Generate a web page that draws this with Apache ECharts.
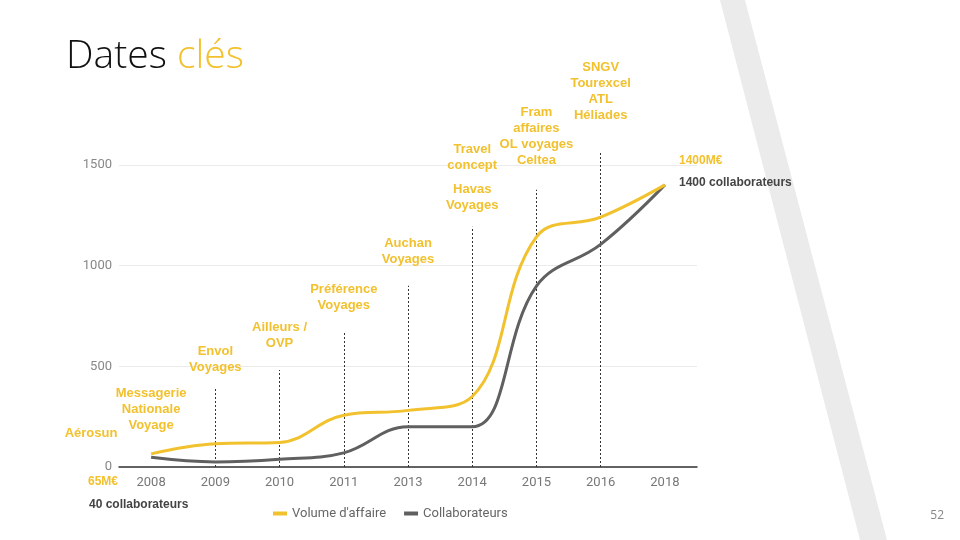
<!DOCTYPE html>
<html>
<head>
<meta charset="utf-8">
<title>Dates clés</title>
<script src="https://cdn.jsdelivr.net/npm/echarts@6/dist/echarts.min.js"></script>
<style>
  html, body { margin: 0; padding: 0; background: #fff; }
  #chart { width: 960px; height: 540px; }
</style>
</head>
<body>
<div id="chart"></div>
<script>
// chart data
var years = ["2008", "2009", "2010", "2011", "2013", "2014", "2015", "2016", "2018"];
var volume = [65, 115, 122, 257, 281, 350, 1142, 1240, 1400];
var collaborateurs = [48, 25, 38, 70, 200, 200, 898, 1105, 1400];
var yTicks = [0, 500, 1000, 1500];

// dotted event lines: year and height reached
var eventYears = ["2009", "2010", "2011", "2013", "2014", "2015", "2016"];
var eventTops = [397, 482, 673, 899, 1192, 1376, 1565];

// acquisitions written above each year
var eventLabels = [
  { year: null, text: "Aérosun" },
  { year: "2008", text: "Messagerie\nNationale\nVoyage" },
  { year: "2009", text: "Envol\nVoyages" },
  { year: "2010", text: "Ailleurs /\nOVP" },
  { year: "2011", text: "Préférence\nVoyages" },
  { year: "2013", text: "Auchan\nVoyages" },
  { year: "2014", text: "Havas\nVoyages" },
  { year: "2014", text: "Travel\nconcept" },
  { year: "2015", text: "Fram\naffaires\nOL voyages\nCeltea" },
  { year: "2016", text: "SNGV\nTourexcel\nATL\nHéliades" }
];
// vertical centre of each label block (px)
var labelY = [433, 409, 359, 335, 297, 251, 197, 157, 136, 91];

var YELLOW = "#F2C12E";
var GREY = "#606060";

var chart = echarts.init(document.getElementById("chart"));

var markData = [];
for (var i = 0; i < eventYears.length; i++) {
  markData.push([{ coord: [eventYears[i], 0] }, { coord: [eventYears[i], eventTops[i]] }]);
}

chart.setOption({
  animation: false,
  textStyle: { fontFamily: "Roboto" },
  grid: { left: 119, right: 263, top: 64, bottom: 73 },
  legend: {
    left: 268,
    top: 502,
    icon: "rect",
    itemWidth: 14,
    itemHeight: 4,
    itemGap: 18,
    textStyle: { color: "#666", fontSize: 13 },
    data: ["Volume d'affaire", "Collaborateurs"]
  },
  xAxis: {
    type: "category",
    data: years,
    boundaryGap: true,
    axisTick: { show: false },
    axisLine: { lineStyle: { color: "#333", width: 1.5 } },
    axisLabel: { color: "#777", fontSize: 13, margin: 9 }
  },
  yAxis: {
    type: "value",
    min: 0,
    max: 2000,
    interval: 500,
    axisLine: { show: false },
    axisTick: { show: false },
    axisLabel: {
      color: "#888",
      fontSize: 13,
      margin: 7,
      showMaxLabel: false,
      formatter: function (v) { return yTicks.indexOf(v) >= 0 ? String(v) : ""; }
    },
    splitLine: { showMaxLine: false, lineStyle: { color: "#ebebeb" } }
  },
  series: [
    {
      name: "Volume d'affaire",
      type: "line",
      data: volume,
      smooth: 0.4,
      symbol: "none",
      z: 4,
      lineStyle: { color: YELLOW, width: 3 },
      itemStyle: { color: YELLOW },
      markLine: {
        silent: true,
        symbol: "none",
        z: 1,
        label: { show: false },
        lineStyle: { color: "#333", width: 1, type: [2, 2] },
        data: markData
      }
    },
    {
      name: "Collaborateurs",
      type: "line",
      data: collaborateurs,
      smooth: 0.4,
      symbol: "none",
      z: 3,
      lineStyle: { color: GREY, width: 3 },
      itemStyle: { color: GREY }
    }
  ]
});

// texts around the chart
var graphics = [
  {
    type: "polygon",
    z: -10,
    silent: true,
    shape: { points: [[720, 0], [745, 0], [887, 540], [860, 540]] },
    style: { fill: "#ebebeb" }
  },
  {
    type: "text",
    x: 66,
    y: 57,
    style: {
      text: "{a|Dates }{b|clés}",
      textVerticalAlign: "middle",
      rich: {
        a: { fontFamily: "Open Sans", fontWeight: 300, fontSize: 39, fill: "#111" },
        b: { fontFamily: "Open Sans", fontWeight: 300, fontSize: 39, fill: YELLOW }
      }
    }
  },
  { type: "text", x: 679, y: 161, style: { text: "1400M€", fill: YELLOW, font: "bold 12px 'Liberation Sans'", textVerticalAlign: "middle" } },
  { type: "text", x: 679, y: 183, style: { text: "1400 collaborateurs", fill: "#444", font: "bold 12px 'Liberation Sans'", textVerticalAlign: "middle" } },
  { type: "text", x: 88, y: 482, style: { text: "65M€", fill: YELLOW, font: "bold 12px 'Liberation Sans'", textVerticalAlign: "middle" } },
  { type: "text", x: 89, y: 505, style: { text: "40 collaborateurs", fill: "#444", font: "bold 12px 'Liberation Sans'", textVerticalAlign: "middle" } },
  { type: "text", x: 944, y: 516, style: { text: "52", fill: "#888", font: "12px 'Open Sans'", textAlign: "right", textVerticalAlign: "middle" } }
];

for (var k = 0; k < eventLabels.length; k++) {
  var lx = eventLabels[k].year ? chart.convertToPixel({ xAxisIndex: 0 }, eventLabels[k].year) : 91;
  graphics.push({
    type: "text",
    x: lx,
    y: labelY[k],
    style: {
      text: eventLabels[k].text,
      fill: YELLOW,
      font: "bold 13px 'Liberation Sans'",
      lineHeight: 16,
      textAlign: "center",
      textVerticalAlign: "middle"
    }
  });
}

chart.setOption({ graphic: graphics });
</script>
</body>
</html>
